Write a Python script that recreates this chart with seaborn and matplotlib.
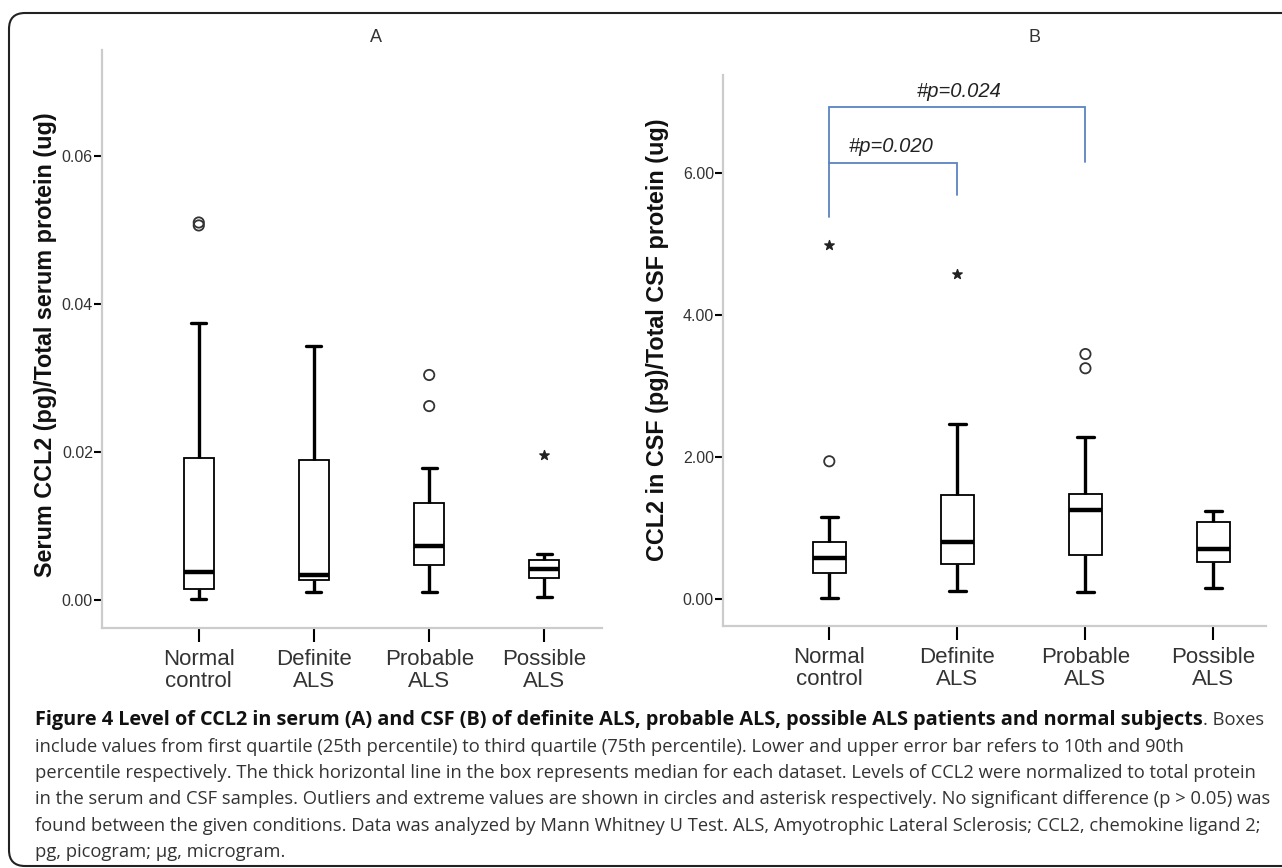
import pandas as pd
import numpy as np
import seaborn as sns
import matplotlib.pyplot as plt
from matplotlib.patches import FancyBboxPatch
from matplotlib.transforms import IdentityTransform
from matplotlib.ticker import FormatStrFormatter

categories = ["Normal\ncontrol", "Definite\nALS", "Probable\nALS", "Possible\nALS"]

# panel A: serum, five-number summary per group (10th, 25th, 50th, 75th, 90th pct)
serum_low = [0.0001, 0.0011, 0.0011, 0.0004]
serum_q1 = [0.0015, 0.0027, 0.0047, 0.0030]
serum_med = [0.0038, 0.0034, 0.0073, 0.0042]
serum_q3 = [0.0192, 0.0189, 0.0131, 0.0054]
serum_high = [0.0374, 0.0343, 0.0178, 0.0062]
serum_circle_group = [0, 0, 2, 2]
serum_circle_value = [0.0510, 0.0506, 0.0304, 0.0262]
serum_star_group = [3]
serum_star_value = [0.0196]

# panel B: CSF
csf_low = [0.01, 0.11, 0.10, 0.15]
csf_q1 = [0.37, 0.49, 0.62, 0.52]
csf_med = [0.58, 0.80, 1.25, 0.70]
csf_q3 = [0.80, 1.46, 1.48, 1.08]
csf_high = [1.15, 2.46, 2.28, 1.24]
csf_circle_group = [0, 2, 2]
csf_circle_value = [1.94, 3.45, 3.25]
csf_star_group = [0, 1]
csf_star_value = [4.99, 4.58]

# significance brackets in panel B
bracket_pairs = [(0, 1), (0, 2)]
bracket_top = [6.14, 6.93]
bracket_left_end = [5.38, 6.14]
bracket_right_end = [5.69, 6.15]
bracket_text = ["#p=0.020", "#p=0.024"]
bracket_text_x = [0.48, 1.01]
bracket_text_y = [6.38, 7.15]

caption_bold = ("Figure 4 Level of CCL2 in serum (A) and CSF (B) of definite ALS, "
                "probable ALS, possible ALS patients and normal subjects")
caption_lines = [
    ". Boxes",
    "include values from first quartile (25th percentile) to third quartile (75th percentile). "
    "Lower and upper error bar refers to 10th and 90th",
    "percentile respectively. The thick horizontal line in the box represents median for each "
    "dataset. Levels of CCL2 were normalized to total protein",
    "in the serum and CSF samples. Outliers and extreme values are shown in circles and asterisk "
    "respectively. No significant difference (p > 0.05) was",
    "found between the given conditions. Data was analyzed by Mann Whitney U Test. ALS, "
    "Amyotrophic Lateral Sclerosis; CCL2, chemokine ligand 2;",
    "pg, picogram; \u03bcg, microgram.",
]


def to_long(low, q1, med, q3, high):
    rows = []
    for i, cat in enumerate(categories):
        for v in (low[i], q1[i], med[i], q3[i], high[i]):
            rows.append({"group": cat, "value": v})
    return pd.DataFrame(rows)


sns.set_style("white")
plt.rcParams['font.family'] = ['Liberation Sans', 'DejaVu Sans']

W, H = 1282, 868
fig = plt.figure(figsize=(W / 100, H / 100), dpi=100)

axA = fig.add_axes([102 / W, 1 - 628 / H, 500 / W, 578 / H])
axB = fig.add_axes([723 / W, 1 - 626 / H, 543 / W, 551 / H])


def draw_panel(ax, df, circ_g, circ_v, star_g, star_v, ylim, xlim, yticks, ylabel,
               label_x, label_y):
    sns.boxplot(data=df, x="group", y="value", order=categories, ax=ax,
                whis=(0, 100), width=0.26, fill=True, color="white",
                linecolor="black", linewidth=1.3, showfliers=False,
                whiskerprops={"linewidth": 2.4}, capprops={"linewidth": 2.4},
                medianprops={"linewidth": 3.2, "color": "black"},
                capwidths=0.13)
    ax.scatter(circ_g, circ_v, marker="o", s=55, facecolors="none",
               edgecolors="#333333", linewidths=1.3, zorder=5)
    ax.scatter(star_g, star_v, marker="*", s=50, color="#222222", zorder=5)
    ax.set_xlim(*xlim)
    ax.set_ylim(*ylim)
    ax.set_yticks(yticks)
    ax.yaxis.set_major_formatter(FormatStrFormatter("%.2f"))
    ax.set_xlabel("")
    ax.set_ylabel(ylabel, fontsize=16.8, fontweight="bold", color="#111111")
    ax.yaxis.set_label_coords(label_x, label_y)
    for side in ["top", "right"]:
        ax.spines[side].set_visible(False)
    for side in ["left", "bottom"]:
        ax.spines[side].set_color("#cccccc")
        ax.spines[side].set_linewidth(1.6)
    ax.tick_params(axis="y", direction="out", length=5.5, width=1.5, color="black",
                   labelsize=11.5, labelcolor="#333333", pad=1, left=True)
    ax.tick_params(axis="x", direction="out", length=10, width=1.5, color="black",
                   labelsize=16, labelcolor="#333333", pad=5, bottom=True)
    for lbl in ax.get_xticklabels():
        lbl.set_linespacing(1.05)
    ax.set_facecolor("white")


draw_panel(axA, to_long(serum_low, serum_q1, serum_med, serum_q3, serum_high),
           serum_circle_group, serum_circle_value, serum_star_group, serum_star_value,
           (-0.00378, 0.0743), (-0.84, 3.50), [0.0, 0.02, 0.04, 0.06],
           "Serum CCL2 (pg)/Total serum protein (ug)", -0.09, 0.49)

draw_panel(axB, to_long(csf_low, csf_q1, csf_med, csf_q3, csf_high),
           csf_circle_group, csf_circle_value, csf_star_group, csf_star_value,
           (-0.38, 7.38), (-0.83, 3.41), [0.0, 2.0, 4.0, 6.0],
           "CCL2 in CSF (pg)/Total CSF protein (ug)", -0.0994, 0.52)

bracket_color = "#5b82c0"
for (a, b), top, lo_a, lo_b in zip(bracket_pairs, bracket_top, bracket_left_end, bracket_right_end):
    axB.plot([a, a, b, b], [lo_a, top, top, lo_b], color=bracket_color, lw=1.3,
             solid_joinstyle="miter", clip_on=False)
for tx, ty, t in zip(bracket_text_x, bracket_text_y, bracket_text):
    axB.text(tx, ty, t, fontsize=14.5, style="italic", ha="center", va="center",
             color="#222222")

fig.text(376 / W, 1 - 38 / H, "A", fontsize=13, ha="center", va="center", color="#333333")
fig.text(1034 / W, 1 - 38 / H, "B", fontsize=13, ha="center", va="center", color="#333333")

# caption
cap_font = ["Open Sans", "DejaVu Sans"]
x0 = 35
baselines = [725, 751.5, 778, 804.5, 831, 857]
renderer = fig.canvas.get_renderer()
tb = fig.text(x0 / W, 1 - baselines[0] / H, caption_bold, fontsize=14.3, fontweight="bold",
              family=cap_font, va="baseline", color="#111111")
bb = tb.get_window_extent(renderer)
fig.text(bb.x1 / W, 1 - baselines[0] / H, caption_lines[0], fontsize=13.2,
         family=cap_font, va="baseline", color="#333333")
for line, yb in zip(caption_lines[1:], baselines[1:]):
    fig.text(x0 / W, 1 - yb / H, line, fontsize=13.2, family=cap_font,
             va="baseline", color="#333333")

frame = FancyBboxPatch((9, 2), 1300, 853, boxstyle="round,pad=0,rounding_size=16",
                       transform=IdentityTransform(), fill=False, edgecolor="#222222",
                       linewidth=1.5, clip_on=False)
fig.patches.append(frame)

fig.savefig("out.png", dpi=100)
